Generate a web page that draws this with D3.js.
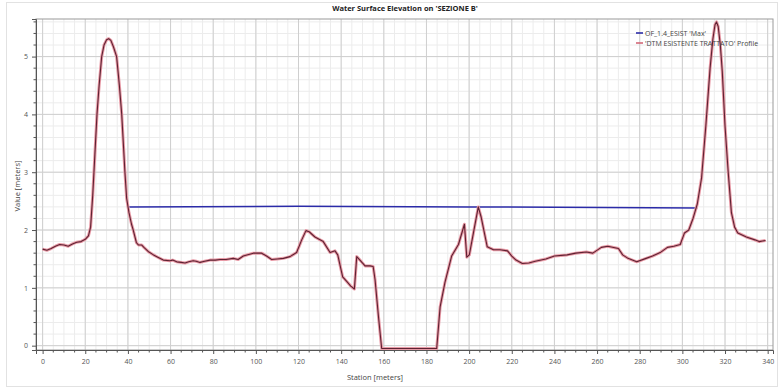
<!DOCTYPE html>
<html>
<head>
<meta charset="utf-8">
<script src="https://cdn.jsdelivr.net/npm/d3@7"></script>
<style>
  html, body { margin: 0; padding: 0; background: #fff; }
  svg { display: block; font-family: "Open Sans", "Liberation Sans", sans-serif; }
</style>
</head>
<body>
<svg id="chart" width="781" height="389"></svg>
<script>
// Ground profile along the cross-section (station in m, elevation in m)
const groundStation = [
  0, 2, 4, 6, 8, 10, 12, 14, 16, 18, 20, 21.5, 22.5, 23.5, 24.5, 25.5, 26.5, 27.7, 28.8, 30, 31,
  32, 33.2, 34.7, 36, 37.1, 38, 38.6, 39.4, 40.5, 41.7, 42.5, 44, 45, 46.5, 47.5, 49.5, 52, 54,
  56.6, 59.7, 61, 62.9, 65, 66.8, 68.5, 70.6, 72, 73.8, 76, 78.5, 81, 83.2, 86, 89.4, 91.7,
  94.1, 98.8, 102.7, 105, 107.4, 110, 112.9, 116, 119.1, 121.5, 123.5, 125, 127.7, 131.6,
  134.8, 137.1, 138.4, 140.7, 142.6, 144.5, 146.2, 147.3, 148.8, 151.2, 153.5, 155, 155.9,
  157.5, 159, 184.8, 186.4, 188.7, 191.8, 195, 197.8, 198.9, 200.1, 204.3, 205.6, 208.5,
  211.4, 214.5, 218, 220, 222, 225, 228, 231, 236, 240, 246, 250, 255, 258, 262, 265, 270,
  272, 274.5, 278.6, 283, 286, 289.6, 293, 296, 299, 301, 303, 305, 307, 309, 311, 313,
  314.3, 315.3, 316, 316.8, 317.8, 318.7, 320, 321.5, 323, 324.5, 326, 330, 334, 336, 339
];
const groundElevation = [
  1.67, 1.65, 1.68, 1.72, 1.75, 1.74, 1.72, 1.76, 1.79, 1.80, 1.84, 1.90, 2.05, 2.6, 3.3, 4.0, 4.5, 5.0, 5.2, 5.29, 5.31,
  5.28, 5.17, 5.00, 4.50, 4.00, 3.40, 3.00, 2.55, 2.30, 2.10, 2.00, 1.78, 1.74, 1.74, 1.70, 1.63, 1.57, 1.53,
  1.48, 1.47, 1.48, 1.45, 1.44, 1.43, 1.45, 1.47, 1.46, 1.44, 1.46, 1.48, 1.48, 1.49, 1.49, 1.51, 1.49,
  1.55, 1.60, 1.60, 1.55, 1.49, 1.50, 1.51, 1.54, 1.61, 1.83, 1.99, 1.97, 1.88, 1.80,
  1.61, 1.64, 1.57, 1.19, 1.11, 1.03, 0.98, 1.54, 1.48, 1.38, 1.38, 1.37, 1.14,
  0.50, -0.05, -0.05, 0.67, 1.10, 1.55, 1.75, 2.10, 1.53, 1.57, 2.40, 2.23, 1.71,
  1.66, 1.66, 1.64, 1.55, 1.48, 1.42, 1.43, 1.46, 1.50, 1.55, 1.57, 1.60, 1.62, 1.60, 1.70, 1.72, 1.68,
  1.57, 1.51, 1.45, 1.51, 1.55, 1.61, 1.70, 1.72, 1.75, 1.95, 2.00, 2.20, 2.45, 2.90, 3.80, 4.80,
  5.30, 5.55, 5.60, 5.52, 5.20, 4.75, 3.80, 3.00, 2.30, 2.05, 1.95, 1.88, 1.83, 1.80, 1.82
];

// Maximum water surface across the wetted width
const wsStation = [39.8, 120, 200, 307];
const wsElevation = [2.40, 2.41, 2.40, 2.38];

const xTicks = [0, 20, 40, 60, 80, 100, 120, 140, 160, 180, 200, 220, 240, 260, 280, 300, 320, 340];
const yTicks = [0, 1, 2, 3, 4, 5];

const titleText = "Water Surface Elevation on 'SEZIONE B'";
const xLabel = "Station [meters]";
const yLabel = "Value [meters]";
const legendNames = ["OF_1.4_ESIST 'Max'", "'DTM ESISTENTE TRATTATO' Profile"];

const svg = d3.select("#chart");
const plot = { left: 36, right: 773, top: 19, bottom: 350 };

const x = d3.scaleLinear().domain([-3.1, 342.5]).range([plot.left, plot.right]);
const y = d3.scaleLinear().domain([-0.075, 5.65]).range([plot.bottom, plot.top]);

// outer frame
svg.append("rect")
  .attr("x", 6.5).attr("y", 2.5).attr("width", 771).attr("height", 384)
  .attr("fill", "#fff").attr("stroke", "#e2e2e2");

// title
svg.append("text")
  .attr("x", 405).attr("y", 11).attr("text-anchor", "middle")
  .attr("font-size", 7.5).attr("font-weight", "bold").attr("fill", "#222")
  .text(titleText);

// grid
const grid = svg.append("g");
const xMinor = d3.range(0, 343, 5);
const yMinor = d3.range(0, 5.61, 0.2);
grid.selectAll(".xm").data(xMinor).join("line")
  .attr("x1", d => x(d)).attr("x2", d => x(d))
  .attr("y1", plot.top).attr("y2", plot.bottom)
  .attr("stroke", "#ececec").attr("stroke-width", 1);
grid.selectAll(".ym").data(yMinor).join("line")
  .attr("x1", plot.left).attr("x2", plot.right)
  .attr("y1", d => y(d)).attr("y2", d => y(d))
  .attr("stroke", "#ececec").attr("stroke-width", 1);
grid.selectAll(".xM").data(xTicks).join("line")
  .attr("x1", d => x(d)).attr("x2", d => x(d))
  .attr("y1", plot.top).attr("y2", plot.bottom)
  .attr("stroke", "#cfcfcf").attr("stroke-width", 1);
grid.selectAll(".yM").data(yTicks).join("line")
  .attr("x1", plot.left).attr("x2", plot.right)
  .attr("y1", d => y(d)).attr("y2", d => y(d))
  .attr("stroke", "#cfcfcf").attr("stroke-width", 1);

// plot border
svg.append("rect")
  .attr("x", plot.left).attr("y", plot.top)
  .attr("width", plot.right - plot.left).attr("height", plot.bottom - plot.top)
  .attr("fill", "none").attr("stroke", "#9a9a9a");

// axes
const xAxis = d3.axisBottom(x).tickValues(xTicks).tickSize(4).tickPadding(5);
const gx = svg.append("g").attr("transform", `translate(0,${plot.bottom})`).call(xAxis);
gx.select(".domain").attr("stroke", "#555");
gx.selectAll(".tick line").attr("stroke", "#555");
gx.selectAll("text").attr("font-size", 7).attr("fill", "#555")
  .attr("font-family", "'Open Sans', sans-serif");
gx.append("g").selectAll("line").data(xMinor.filter(d => d % 20 !== 0)).join("line")
  .attr("x1", d => x(d)).attr("x2", d => x(d)).attr("y1", 0).attr("y2", 2.5)
  .attr("stroke", "#555");

const yAxis = d3.axisLeft(y).tickValues(yTicks).tickFormat(d3.format("d")).tickSize(4).tickPadding(4);
const gy = svg.append("g").attr("transform", `translate(${plot.left},0)`).call(yAxis);
gy.select(".domain").attr("stroke", "#555");
gy.selectAll(".tick line").attr("stroke", "#555");
gy.selectAll("text").attr("font-size", 7).attr("fill", "#555")
  .attr("font-family", "'Open Sans', sans-serif");
gy.append("g").selectAll("line").data(yMinor.filter(d => Math.abs(d - Math.round(d)) > 0.01)).join("line")
  .attr("x1", -2.5).attr("x2", 0).attr("y1", d => y(d)).attr("y2", d => y(d))
  .attr("stroke", "#555");

// axis titles
svg.append("text")
  .attr("x", 375).attr("y", 380).attr("text-anchor", "middle")
  .attr("font-size", 7.5).attr("fill", "#444").text(xLabel);
svg.append("text")
  .attr("transform", "translate(20,186) rotate(-90)").attr("text-anchor", "middle")
  .attr("font-size", 7.5).attr("fill", "#444").text(yLabel);

// series
svg.append("clipPath").attr("id", "plotclip").append("rect")
  .attr("x", plot.left).attr("y", plot.top)
  .attr("width", plot.right - plot.left).attr("height", plot.bottom - plot.top);
const layer = svg.append("g").attr("clip-path", "url(#plotclip)");

const ground = d3.zip(groundStation, groundElevation);
const ws = d3.zip(wsStation, wsElevation);
const line = d3.line().x(d => x(d[0])).y(d => y(d[1]));

layer.append("path").datum(ws).attr("d", line)
  .attr("fill", "none").attr("stroke", "#2b2ba8").attr("stroke-width", 1.5);
layer.append("path").datum(ground).attr("d", line)
  .attr("fill", "none").attr("stroke", "#e89aa6").attr("stroke-width", 3)
  .attr("stroke-linejoin", "round");
layer.append("path").datum(ground).attr("d", line)
  .attr("fill", "none").attr("stroke", "#5e2232").attr("stroke-width", 1.1)
  .attr("stroke-linejoin", "round");

// legend
const legend = svg.append("g").attr("transform", "translate(636,33)");
const legColors = ["#2b2ba8", "#d46878"];
legendNames.forEach((name, i) => {
  const g = legend.append("g").attr("transform", `translate(0,${i * 10})`);
  g.append("line").attr("x1", 0).attr("x2", 7).attr("y1", 0).attr("y2", 0)
    .attr("stroke", legColors[i]).attr("stroke-width", 1.6);
  g.append("text").attr("x", 9).attr("y", 2.5)
    .attr("font-size", 7).attr("fill", "#444").text(name);
});
</script>
</body>
</html>
